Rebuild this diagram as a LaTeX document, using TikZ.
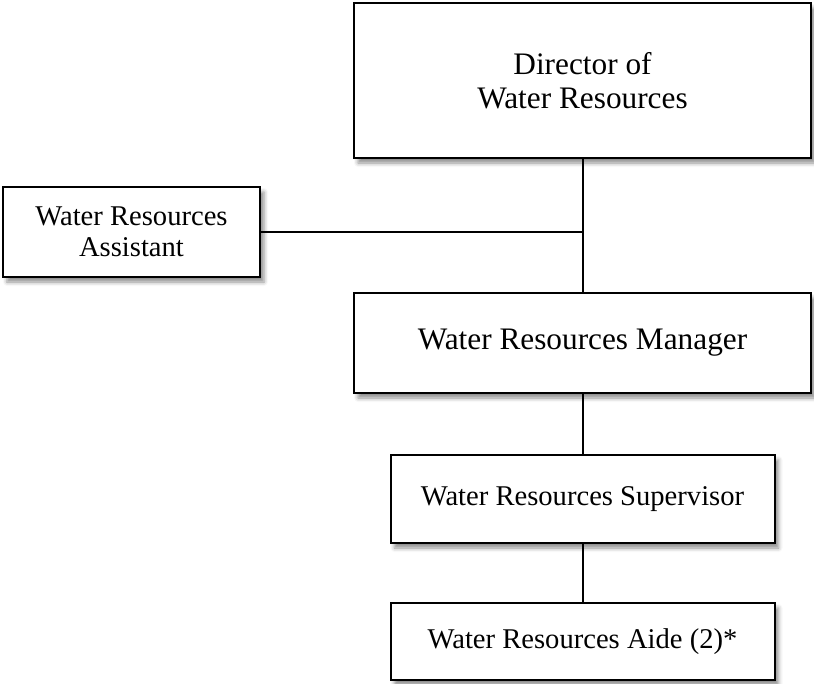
\documentclass[tikz,border=0pt]{standalone}
\usepackage{fontspec}
\setmainfont{Liberation Serif}
\usetikzlibrary{shadows.blur}
\tikzset{
  orgbox/.style={draw=black, line width=2pt, fill=white, rectangle, align=center, inner sep=0pt,
    blur shadow={shadow xshift=4pt, shadow yshift=-5pt, shadow blur radius=4pt, shadow opacity=45}},
  bigtxt/.style={font=\fontsize{31.3}{34}\selectfont},
  smalltxt/.style={font=\fontsize{28.6}{31}\selectfont},
  conn/.style={draw=black, line width=2pt}
}
\begin{document}
\begin{tikzpicture}[x=1pt, y=-1pt]
\useasboundingbox (0,0) rectangle (814,683);
\node[orgbox, bigtxt, minimum width=457pt, minimum height=155pt] (dir) at (582.5,80.5) {Director of\\Water Resources};
\node[orgbox, smalltxt, minimum width=257pt, minimum height=90pt] (asst) at (131.5,232) {Water Resources\\Assistant};
\node[orgbox, bigtxt, minimum width=457pt, minimum height=100pt] (mgr) at (582.5,343) {Water Resources Manager};
\node[orgbox, smalltxt, minimum width=384pt, minimum height=88pt] (sup) at (582.5,499) {Water Resources Supervisor};
\node[orgbox, smalltxt, minimum width=384pt, minimum height=77pt] (aide) at (582.5,641.5) {Water Resources Aide (2)*};
\coordinate (junc) at (asst.east -| dir.south);
\draw[conn] (dir.south) -- (mgr.north);
\draw[conn] (asst.east) -- (junc);
\draw[conn] (mgr.south) -- (sup.north);
\draw[conn] (sup.south) -- (aide.north);
\end{tikzpicture}
\end{document}
